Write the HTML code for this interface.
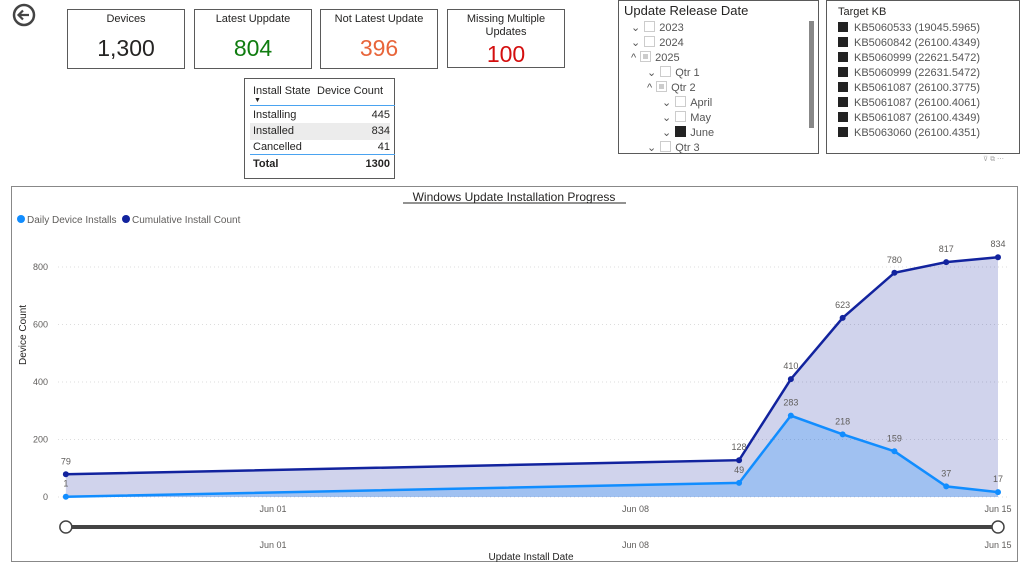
<!DOCTYPE html>
<html><head><meta charset="utf-8">
<style>
body{margin:0;width:1024px;height:566px;background:#fff;font-family:"Liberation Sans",sans-serif;position:relative;overflow:hidden;color:#252423}
.abs{position:absolute}
.card{position:absolute;border:1px solid #5a5a5a;background:#fff;text-align:center;box-sizing:border-box}
.card .t{font-size:11px;color:#252423;margin-top:3px;line-height:13px}
.card .v{font-size:23px}
.sl div{height:15px;line-height:15px;white-space:nowrap}
.bx{display:inline-block;width:9px;height:9px;border:1px solid #ccc;margin:0 4px;vertical-align:-1px}
.kb div{height:15px;line-height:15px;white-space:nowrap}
.kb span{display:inline-block;width:10px;height:10px;background:#222;margin-right:6px;vertical-align:-1px}
</style></head><body>
<svg class="abs" style="left:12px;top:3px" width="26" height="26"><circle cx="12" cy="12" r="10" fill="none" stroke="#444" stroke-width="2.5"/><path d="M17 12H7M11 7.5L6.5 12L11 16.5" fill="none" stroke="#444" stroke-width="2.2"/></svg>

<div class="card" style="left:67px;top:9px;width:118px;height:60px"><div class="t">Devices</div><div class="v" style="margin-top:9px">1,300</div></div>
<div class="card" style="left:194px;top:9px;width:118px;height:60px"><div class="t">Latest Uppdate</div><div class="v" style="margin-top:9px;color:#107c10">804</div></div>
<div class="card" style="left:320px;top:9px;width:118px;height:60px"><div class="t">Not Latest Update</div><div class="v" style="margin-top:9px;color:#e8653a">396</div></div>
<div class="card" style="left:447px;top:9px;width:118px;height:59px"><div class="t">Missing Multiple<br>Updates</div><div class="v" style="margin-top:2px;color:#d40f0f">100</div></div>

<div class="card" style="left:244px;top:78px;width:151px;height:101px;text-align:left">
 <div class="abs" style="left:8px;top:6px;font-size:11px">Install State</div>
 <div class="abs" style="left:9px;top:18px;font-size:7px">▼</div>
 <div class="abs" style="left:72px;top:6px;font-size:11px">Device Count</div>
 <div class="abs" style="left:5px;top:26px;width:145px;border-top:1px solid #4aa3f0"></div>
 <div class="abs" style="left:5px;top:28px;width:140px;height:17px;font-size:11px;line-height:17px"><span style="margin-left:3px">Installing</span><span style="float:right">445</span></div>
 <div class="abs" style="left:5px;top:44px;width:140px;height:17px;font-size:11px;line-height:17px;background:#ececec"><span style="margin-left:3px">Installed</span><span style="float:right">834</span></div>
 <div class="abs" style="left:5px;top:60px;width:140px;height:17px;font-size:11px;line-height:17px"><span style="margin-left:3px">Cancelled</span><span style="float:right">41</span></div>
 <div class="abs" style="left:5px;top:75px;width:145px;border-top:1px solid #4aa3f0"></div>
 <div class="abs" style="left:5px;top:77px;width:140px;height:17px;font-size:11px;line-height:17px;font-weight:bold"><span style="margin-left:3px">Total</span><span style="float:right">1300</span></div>
</div>

<div class="card" style="left:618px;top:0;width:201px;height:154px;text-align:left;overflow:hidden">
 <div class="abs" style="left:5px;top:2px;font-size:13px">Update Release Date</div>
 <div class="abs" style="left:190px;top:20px;width:5px;height:107px;background:#888"></div>
 <div class="sl" style="position:absolute;left:0;top:20px;font-size:11px;color:#555">
  <div style="margin-left:12px">⌄<span class="bx"></span>2023</div>
  <div style="margin-left:12px">⌄<span class="bx"></span>2024</div>
  <div style="margin-left:12px">^<span class="bx" style="background:#ccc;box-shadow:inset 0 0 0 2px #fff"></span>2025</div>
  <div style="margin-left:28px">⌄<span class="bx"></span>Qtr 1</div>
  <div style="margin-left:28px">^<span class="bx" style="background:#ccc;box-shadow:inset 0 0 0 2px #fff"></span>Qtr 2</div>
  <div style="margin-left:43px">⌄<span class="bx"></span>April</div>
  <div style="margin-left:43px">⌄<span class="bx"></span>May</div>
  <div style="margin-left:43px">⌄<span class="bx" style="border-color:#222;background:#222"></span>June</div>
  <div style="margin-left:28px">⌄<span class="bx"></span>Qtr 3</div>
 </div>
</div>

<div class="card" style="left:826px;top:0;width:194px;height:154px;text-align:left">
 <div class="abs" style="left:11px;top:5px;font-size:11px">Target KB</div>
 <div class="kb" style="position:absolute;left:11px;top:20px;font-size:11px;color:#555">
  <div><span></span>KB5060533 (19045.5965)</div>
  <div><span></span>KB5060842 (26100.4349)</div>
  <div><span></span>KB5060999 (22621.5472)</div>
  <div><span></span>KB5060999 (22631.5472)</div>
  <div><span></span>KB5061087 (26100.3775)</div>
  <div><span></span>KB5061087 (26100.4061)</div>
  <div><span></span>KB5061087 (26100.4349)</div>
  <div><span></span>KB5063060 (26100.4351)</div>
 </div>
</div>
<div class="abs" style="left:983px;top:155px;font-size:7px;color:#aaa">⊽ ⧉ ⋯</div>

<div class="abs" style="left:11px;top:186px;width:1007px;height:376px;border:1px solid #888;box-sizing:border-box"></div>
<svg id="chart" class="abs" style="left:0;top:0" width="1024" height="566"></svg>

<script>
const categories=["2025-05-28","2025-06-10","2025-06-11","2025-06-12","2025-06-13","2025-06-14","2025-06-15"];
const dailyInstalls=[1,49,283,218,159,37,17];
const cumulativeInstalls=[79,128,410,623,780,817,834];
const yTicks=[0,200,400,600,800];
const xTickLabels=["Jun 01","Jun 08","Jun 15"];
const xTickDates=["2025-06-01","2025-06-08","2025-06-15"];

const svg=document.getElementById('chart');
const NS="http://www.w3.org/2000/svg";
const day=d=>Date.parse(d)/86400000;
const d0=day("2025-06-01"),pxPerDay=(998-273)/14;
const x=d=>273+(day(d)-d0)*pxPerDay;
const y=v=>497-v*(230/800);
function el(tag,attrs,parent){const e=document.createElementNS(NS,tag);for(const k in attrs)e.setAttribute(k,attrs[k]);(parent||svg).appendChild(e);return e;}
function txt(s,attrs){const t=el('text',Object.assign({'font-family':'Liberation Sans, sans-serif'},attrs));t.textContent=s;return t;}

let t=txt("Windows Update Installation Progress",{x:514,y:201,'text-anchor':'middle','font-size':12,fill:'#252423'});

el('line',{x1:403,x2:626,y1:203,y2:203,stroke:'#252423'});

let lg=el('circle',{cx:21,cy:219,r:4,fill:'#118dff'});

t=txt("Daily Device Installs",{x:27,y:223,'font-size':10,fill:'#605e5c'});

lg=el('circle',{cx:126,cy:219,r:4,fill:'#12239e'});

t=txt("Cumulative Install Count",{x:132,y:223,'font-size':10,fill:'#605e5c'});


yTicks.forEach(v=>{
  const g=el('line',{x1:58,x2:1010,y1:y(v),y2:y(v),stroke:'#ddd','stroke-dasharray':'1,3'});
  
  const l=txt(String(v),{x:48,y:y(v)+3,'text-anchor':'end','font-size':9,fill:'#605e5c'});
  
});
t=txt("Device Count",{x:26,y:365,'font-size':10,fill:'#252423',transform:'rotate(-90 26 365)'});


function series(vals,fill,name){
  const pts=vals.map((v,i)=>[x(categories[i]),y(v)]);
  const area=el('path',{d:'M'+pts.map(p=>p.join(',')).join('L')+`L${pts[pts.length-1][0]},${y(0)}L${pts[0][0]},${y(0)}Z`,fill:fill});
  
  return pts;
}
const pc=series(cumulativeInstalls,'rgba(18,35,158,0.2)','cumulative');
const pd=series(dailyInstalls,'rgba(17,141,255,0.25)','daily');
function line(pts,color,name,vals){
  const l=el('polyline',{points:pts.map(p=>p.join(',')).join(' '),fill:'none',stroke:color,'stroke-width':2.5});
  
  pts.forEach((p,i)=>{
    const c=el('circle',{cx:p[0],cy:p[1],r:3,fill:color});
    
    const lb=txt(String(vals[i]),{x:p[0],y:p[1]-10,'text-anchor':'middle','font-size':9,fill:'#605e5c'});
    
  });
}
line(pc,'#12239e','cumulative',cumulativeInstalls);
line(pd,'#118dff','daily',dailyInstalls);

xTickLabels.forEach((s,i)=>{
  const a=txt(s,{x:x(xTickDates[i]),y:512,'text-anchor':'middle','font-size':9,fill:'#605e5c'});
  
  const b=txt(s,{x:x(xTickDates[i]),y:548,'text-anchor':'middle','font-size':9,fill:'#605e5c'});
  
});
const sl=el('line',{x1:x(categories[0]),x2:x(categories[categories.length-1]),y1:527,y2:527,stroke:'#444','stroke-width':4});

[categories[0],categories[categories.length-1]].forEach(d=>{
  const h=el('circle',{cx:x(d),cy:527,r:6,fill:'#fff',stroke:'#444','stroke-width':1.5});
  
});
t=txt("Update Install Date",{x:531,y:560,'text-anchor':'middle','font-size':10,fill:'#252423'});

</script>
</body></html>
